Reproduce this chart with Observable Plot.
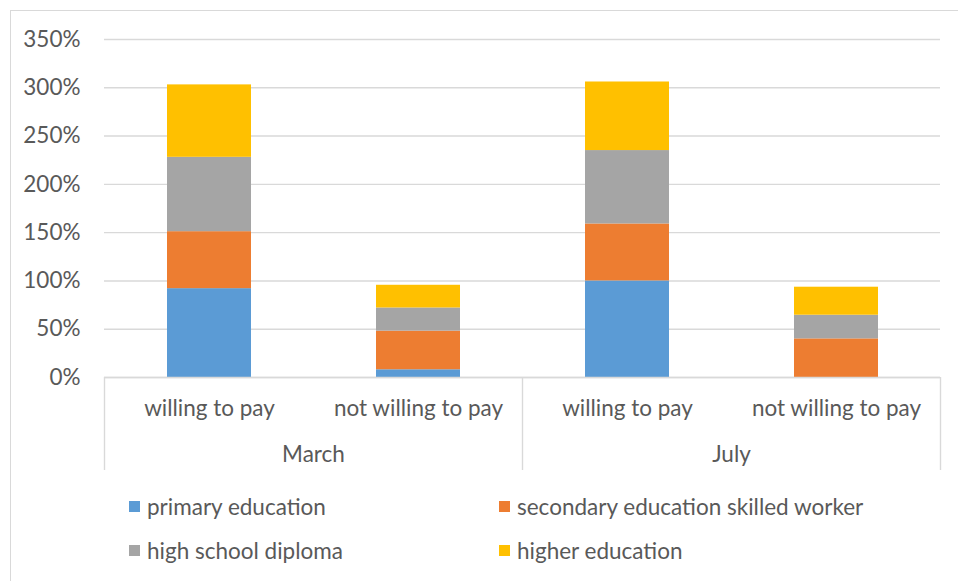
<!DOCTYPE html>
<html>
<head>
<meta charset="utf-8">
<script src="https://cdn.jsdelivr.net/npm/d3@7"></script>
<script src="https://cdn.jsdelivr.net/npm/@observablehq/plot@0.6"></script>
<style>
  html, body { margin: 0; padding: 0; background: #fff; }
  #wrap { position: relative; width: 958px; height: 581px; overflow: hidden; font-family: Lato, "Open Sans", sans-serif; color: #595959; }
  #border { position: absolute; left: 10px; top: 10px; width: 1000px; height: 700px; border-left: 1.5px solid #d9d9d9; border-top: 1.5px solid #d9d9d9; }
  #chart { position: absolute; left: 0; top: 0; }
  #legend { position: absolute; left: 0; top: 480px; width: 958px; height: 101px; }
  .item { position: absolute; display: flex; align-items: center; font-size: 22.5px; white-space: nowrap; }
  .sw { width: 11px; height: 11px; margin-right: 7px; }
</style>
</head>
<body>
<div id="wrap">
  <div id="border"></div>
  <div id="chart"></div>
  <div id="legend"></div>
</div>
<script>
const months = ["March", "July"];
const willingness = ["willing to pay", "not willing to pay"];
const levels = ["primary education", "secondary education skilled worker", "high school diploma", "higher education"];
const colors = ["#5B9BD5", "#ED7D31", "#A5A5A5", "#FFC000"];
// values in %, order: March willing, March not willing, July willing, July not willing
const primary = [92, 8, 100, 0];
const secondary = [59, 40, 59, 40];
const highSchool = [77, 24, 76, 24.5];
const higher = [75, 23.5, 71, 29];
const yTicks = [0, 50, 100, 150, 200, 250, 300, 350];

const series = [primary, secondary, highSchool, higher];
const keys = [];
months.forEach(m => willingness.forEach(w => keys.push(m + "|" + w)));
const rows = [];
keys.forEach((k, i) => levels.forEach((l, li) => rows.push({key: k, level: l, value: series[li][i]})));

const chart = Plot.plot({
  width: 958,
  height: 480,
  marginLeft: 104,
  marginRight: 18,
  marginTop: 39,
  marginBottom: 103,
  style: {fontFamily: "Lato, 'Open Sans', sans-serif", fontSize: "22.5px", color: "#595959", background: "transparent", overflow: "visible"},
  x: {domain: keys, paddingInner: 0.6, paddingOuter: 0.3, label: null, tickSize: 0, tickPadding: 23, tickFormat: d => d.split("|")[1]},
  y: {domain: [0, 350], ticks: yTicks, tickFormat: d => d + "%", label: null, tickSize: 0, tickPadding: 24},
  color: {domain: levels, range: colors},
  marks: [
    Plot.ruleY(yTicks, {stroke: "#d9d9d9", strokeWidth: 1.4}),
    Plot.barY(rows, {x: "key", y: "value", fill: "level"}),
    Plot.ruleY([0], {stroke: "#d9d9d9", strokeWidth: 1.4})
  ]
});
document.getElementById("chart").appendChild(chart);

// category group separators and month labels, placed with the plot's own scales
const xs = chart.scale("x");
const ys = chart.scale("y");
const bw = xs.bandwidth || 0;
const centers = keys.map(k => xs.apply(k) + bw / 2);
const step = centers[1] - centers[0];
const y0 = ys.apply(0);
const svg = d3.select(chart);
const g = svg.append("g");
const seps = [centers[0] - step / 2, centers[1] + step / 2, centers[3] + step / 2];
seps.forEach(x => g.append("line").attr("x1", x).attr("x2", x).attr("y1", y0).attr("y2", y0 + 93)
  .attr("stroke", "#d9d9d9").attr("stroke-width", 1.4));
months.forEach((m, i) => {
  const cx = (centers[i * 2] + centers[i * 2 + 1]) / 2;
  g.append("text").attr("x", cx).attr("y", y0 + 85).attr("text-anchor", "middle")
    .attr("fill", "#595959").style("font-size", "22.5px").text(m);
});

// legend
const legend = document.getElementById("legend");
const pos = [[129, 26], [499, 26], [129, 70], [499, 70]];
levels.forEach((l, i) => {
  const d = document.createElement("div");
  d.className = "item";
  d.style.left = pos[i][0] + "px";
  d.style.top = (pos[i][1] - 14) + "px";
  d.style.height = "28px";
  d.innerHTML = `<div class="sw" style="background:${colors[i]}"></div><span>${l}</span>`;
  legend.appendChild(d);
});
</script>
</body>
</html>
